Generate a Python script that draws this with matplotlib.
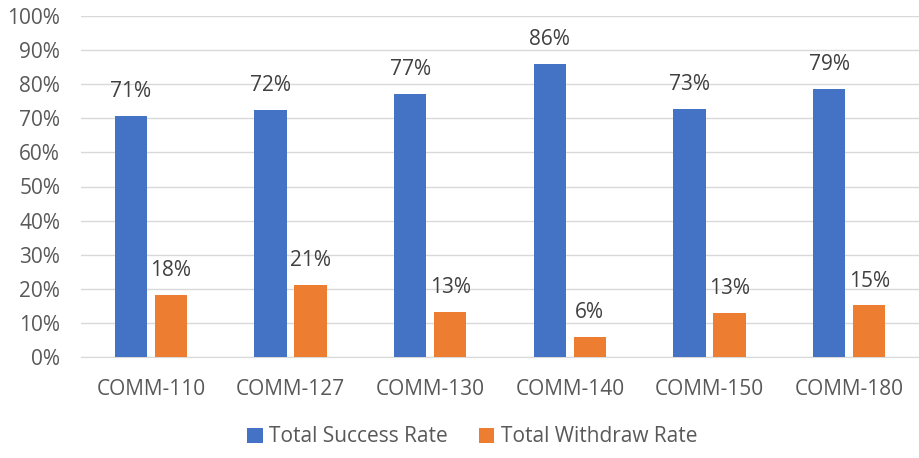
import numpy as np
import matplotlib.pyplot as plt
from matplotlib.ticker import PercentFormatter

courses = ['COMM-110', 'COMM-127', 'COMM-130', 'COMM-140', 'COMM-150', 'COMM-180']
success = [70.7, 72.4, 77.1, 85.9, 72.7, 78.6]
withdraw = [18.2, 21.1, 13.2, 5.9, 12.9, 15.2]

plt.rcParams['font.family'] = ['Open Sans', 'DejaVu Sans']
txt = '#595959'
fs = 15

fig = plt.figure(figsize=(9.19, 4.58), dpi=100)
ax = fig.add_axes([81 / 919, 1 - 357 / 458, 838 / 919, 341 / 458])

x = np.arange(len(courses))
w = 0.23
off = 0.143
b1 = ax.bar(x - off, success, w, color='#4472C4', label='Total Success Rate', zorder=3)
b2 = ax.bar(x + off, withdraw, w, color='#ED7D31', label='Total Withdraw Rate', zorder=3)

# value labels over each bar
for bars in (b1, b2):
    for r in bars:
        ax.text(r.get_x() + r.get_width() / 2, r.get_height() + 4.0, '%d%%' % round(r.get_height()),
                ha='center', va='bottom', fontsize=fs, color='#404040')

ax.set_xlim(-0.5, len(courses) - 0.5)
ax.set_ylim(0, 100)
ax.set_yticks(np.arange(0, 101, 10))
ax.yaxis.set_major_formatter(PercentFormatter(decimals=0))
ax.set_xticks(x)
ax.set_xticklabels(courses)
ax.grid(axis='y', color='#D9D9D9', linewidth=1, zorder=0)
for s in ['top', 'right', 'left']:
    ax.spines[s].set_visible(False)
ax.spines['bottom'].set_color('#D9D9D9')
ax.tick_params(axis='both', length=0, labelsize=fs, colors=txt)
ax.tick_params(axis='x', pad=16)
ax.tick_params(axis='y', pad=15)

leg = fig.legend(loc='center', bbox_to_anchor=(472 / 919, 1 - 437 / 458), ncol=2, frameon=False,
                 fontsize=fs, handlelength=0.75, handleheight=0.75, columnspacing=1.5, handletextpad=0.3)
for t in leg.get_texts():
    t.set_color(txt)

fig.savefig('out.png', dpi=100)
